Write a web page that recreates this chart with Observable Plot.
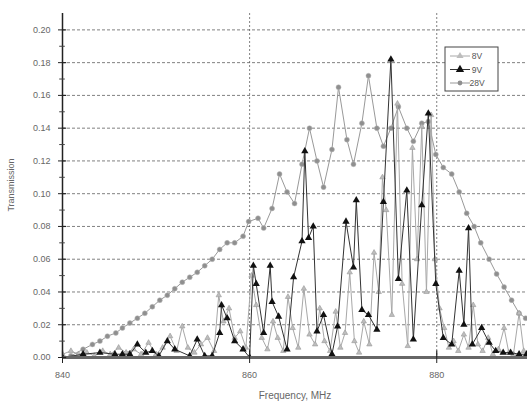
<!DOCTYPE html>
<html><head><meta charset="utf-8">
<script src="https://cdn.jsdelivr.net/npm/d3@7"></script>
<script src="https://cdn.jsdelivr.net/npm/@observablehq/plot@0.6"></script>
<style>body{margin:0;background:#fff}svg{display:block}</style>
</head><body><div id="chart"></div>
<script>
const seriesNames = ["8V", "9V", "28V"];
const xTicks = [840, 860, 880];
const yTicks = [0, 0.02, 0.04, 0.06, 0.08, 0.10, 0.12, 0.14, 0.16, 0.18, 0.20];
const yMinor = [0.01, 0.03, 0.05, 0.07, 0.09, 0.11, 0.13, 0.15, 0.17, 0.19];

const f28 = [840.0,840.9,842.2,843.2,844.0,844.8,845.7,846.4,847.2,848.0,848.8,849.6,850.4,851.2,852.0,852.8,853.6,854.4,855.2,856.0,856.8,857.6,858.4,859.3,859.9,860.9,861.5,862.4,863.2,864.0,864.8,865.6,866.4,867.2,867.9,868.8,869.5,870.4,871.1,872.0,872.7,873.6,874.3,875.1,875.9,876.8,877.5,878.4,879.1,879.9,880.7,881.6,882.4,883.2,884.0,884.7,885.6,886.4,887.2,888.0,888.8,889.5];
const v28 = [0.000,0.001,0.005,0.008,0.010,0.013,0.015,0.018,0.021,0.024,0.027,0.031,0.035,0.038,0.042,0.046,0.049,0.052,0.056,0.060,0.066,0.070,0.070,0.074,0.083,0.085,0.079,0.091,0.112,0.101,0.094,0.118,0.140,0.120,0.104,0.127,0.165,0.133,0.118,0.143,0.172,0.140,0.129,0.140,0.153,0.140,0.132,0.143,0.144,0.124,0.116,0.112,0.101,0.088,0.080,0.070,0.060,0.051,0.043,0.035,0.027,0.024];

const f9 = [840.0,842.2,844.0,845.6,846.4,847.2,848.0,848.9,849.6,850.3,851.2,852.0,853.6,854.4,855.2,856.0,856.8,857.0,857.6,858.4,859.3,860.0,860.4,860.7,861.5,862.2,862.4,863.1,864.0,864.7,865.6,865.9,866.3,866.8,867.2,867.9,868.8,869.4,870.3,871.1,871.4,872.0,872.7,873.6,874.3,875.1,875.9,876.8,877.5,878.4,879.1,879.9,880.7,881.6,882.4,882.9,883.4,883.8,884.8,885.6,886.3,887.1,887.9,888.8,889.6];
const v9 = [0.000,0.002,0.003,0.002,0.002,0.002,0.008,0.003,0.004,0.001,0.010,0.005,0.001,0.011,0.001,0.001,0.015,0.032,0.024,0.010,0.005,0.000,0.056,0.045,0.015,0.056,0.034,0.025,0.005,0.049,0.071,0.126,0.073,0.080,0.016,0.026,0.002,0.019,0.083,0.055,0.096,0.029,0.026,0.017,0.095,0.182,0.048,0.102,0.011,0.093,0.149,0.045,0.012,0.008,0.053,0.020,0.079,0.008,0.018,0.009,0.004,0.003,0.003,0.002,0.002];

const f8 = [840.0,840.9,841.7,842.6,843.4,844.3,845.1,846.0,846.8,847.6,848.4,849.2,850.0,850.7,851.5,852.2,852.8,853.4,854.1,854.8,855.5,856.2,856.7,857.2,857.8,858.4,859.0,859.6,860.2,860.7,861.3,861.9,862.5,863.0,863.6,864.1,864.6,865.2,865.8,866.4,867.0,867.5,868.0,868.6,869.2,869.7,870.2,870.7,871.2,871.7,872.2,872.8,873.3,873.8,874.2,874.6,875.2,875.8,876.3,876.9,877.4,877.9,878.4,878.9,879.4,879.8,880.3,880.8,881.3,881.8,882.3,882.9,883.4,883.9,884.4,884.9,885.5,886.0,886.6,887.2,887.7,888.2,888.8,889.3];
const v8 = [0.002,0.004,0.002,0.003,0.001,0.004,0.002,0.006,0.003,0.005,0.002,0.009,0.002,0.006,0.013,0.004,0.019,0.006,0.003,0.008,0.012,0.004,0.038,0.022,0.030,0.012,0.016,0.006,0.050,0.032,0.012,0.005,0.022,0.012,0.004,0.037,0.018,0.006,0.042,0.014,0.008,0.030,0.010,0.004,0.028,0.006,0.015,0.052,0.010,0.003,0.022,0.008,0.064,0.040,0.110,0.090,0.026,0.155,0.045,0.007,0.128,0.060,0.141,0.040,0.148,0.060,0.030,0.018,0.006,0.010,0.004,0.014,0.006,0.032,0.008,0.004,0.012,0.002,0.005,0.018,0.003,0.002,0.027,0.004];

const d28 = f28.map((f, i) => ({f, v: v28[i]}));
const d9 = f9.map((f, i) => ({f, v: v9[i]}));
const d8 = f8.map((f, i) => ({f, v: v8[i]}));

const plot = Plot.plot({
  width: 527, height: 405,
  marginLeft: 62, marginRight: 0, marginTop: 13, marginBottom: 48,
  x: {domain: [840, 889.7], label: null},
  y: {domain: [0, 0.21], label: null},
  style: {fontFamily: "'Liberation Sans', Arial, sans-serif", fontSize: "9px", color: "#555", background: "#fff"},
  marks: [
    Plot.gridY(yTicks.slice(1), {stroke: "#555", strokeOpacity: 0.75, strokeDasharray: "3,2"}),
    Plot.gridX([860, 880], {stroke: "#555", strokeOpacity: 0.75, strokeDasharray: "2,2"}),
    Plot.line(d28, {x: "f", y: "v", stroke: "#999", strokeWidth: 1, clip: true}),
    Plot.dot(d28, {x: "f", y: "v", r: 2.5, fill: "#8f8f8f", stroke: "#bbb", strokeWidth: 0.5, clip: true}),
    Plot.line(d8, {x: "f", y: "v", stroke: "#a8a8a8", strokeWidth: 1, clip: true}),
    Plot.dot(d8, {x: "f", y: "v", symbol: "triangle", r: 2, fill: "#bdbdbd", stroke: "#999", strokeWidth: 0.6, clip: true}),
    Plot.line(d9, {x: "f", y: "v", stroke: "#333", strokeWidth: 1, clip: true}),
    Plot.dot(d9, {x: "f", y: "v", symbol: "triangle", r: 2.7, fill: "#111", clip: true}),
    Plot.ruleY([0], {stroke: "#666", strokeWidth: 3}),
    Plot.ruleX([840], {y1: 0, y2: 0.21, stroke: "#222", strokeWidth: 1.5}),
    Plot.ruleY(yTicks, {x1: 840, x2: 840.45, stroke: "#222", strokeWidth: 1.2}),
    Plot.ruleY(yMinor, {x1: 839.7, x2: 840.3, stroke: "#444", strokeWidth: 1}),
    Plot.axisY(yTicks, {tickSize: 4, tickPadding: 8, tickFormat: d => d.toFixed(2), stroke: "#222", fill: "#666", fontSize: 9}),
    Plot.axisX(xTicks, {tickSize: 6, tickPadding: 8, tickFormat: d => String(d), stroke: "#222", fill: "#666", fontSize: 9}),
    Plot.ruleX(xTicks, {y1: 0, y2: 0.004, stroke: "#222", strokeWidth: 1.2})
  ]
});
document.getElementById("chart").appendChild(plot);

const svg = d3.select(plot);
const ys = plot.scale("y");
svg.append("text").attr("x", 295).attr("y", 399).attr("text-anchor", "middle")
  .attr("font-size", 10).attr("fill", "#666").text("Frequency, MHz");
svg.append("text").attr("transform", "translate(14," + ys.apply(0.105) + ") rotate(-90)")
  .attr("text-anchor", "middle").attr("font-size", 9).attr("fill", "#666").text("Transmission");

// legend
const lg = svg.append("g");
lg.append("rect").attr("x", 445).attr("y", 47).attr("width", 53).attr("height", 44)
  .attr("fill", "#fff").attr("stroke", "#444").attr("stroke-width", 1);
const styles = [
  {stroke: "#a8a8a8", fill: "#bdbdbd", sym: d3.symbolTriangle, size: 22},
  {stroke: "#333", fill: "#111", sym: d3.symbolTriangle, size: 30},
  {stroke: "#999", fill: "#8f8f8f", sym: d3.symbolCircle, size: 18}
];
seriesNames.forEach((name, i) => {
  const yy = 56 + i * 13.5;
  lg.append("line").attr("x1", 450).attr("x2", 470).attr("y1", yy).attr("y2", yy)
    .attr("stroke", styles[i].stroke).attr("stroke-width", 1);
  lg.append("path").attr("d", d3.symbol(styles[i].sym, styles[i].size)())
    .attr("transform", `translate(460,${yy})`).attr("fill", styles[i].fill);
  lg.append("text").attr("x", 477).attr("y", yy + 3).attr("font-size", 8.5).attr("fill", "#555").text(name);
});
</script></body></html>
